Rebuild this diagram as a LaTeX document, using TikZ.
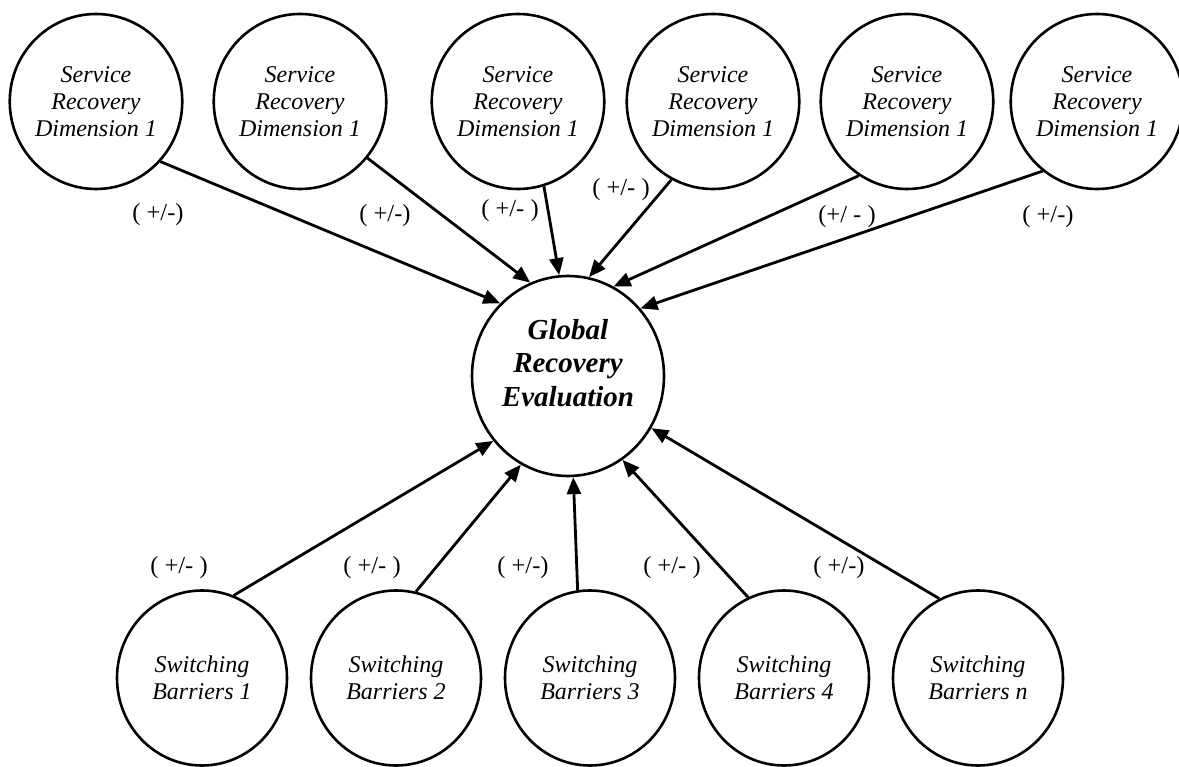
\documentclass[tikz,border=0pt]{standalone}
\usepackage{fontspec}
\setmainfont{Liberation Serif}
\usetikzlibrary{shapes.geometric,arrows.meta}
\begin{document}
\begin{tikzpicture}[x=1pt,y=-1pt,
  factor/.style={ellipse, draw, line width=2.6pt, minimum width=170pt,
    minimum height=175pt, inner sep=0pt, align=center,
    font=\fontsize{24}{26.7}\selectfont\itshape},
  hub/.style={ellipse, draw, line width=2.6pt, minimum width=192pt,
    minimum height=200pt, inner sep=0pt},
  hubtext/.style={align=center, inner sep=0pt,
    font=\fontsize{29}{33.5}\selectfont\bfseries\itshape},
  sign/.style={inner sep=0pt, font=\fontsize{24.5}{27}\selectfont},
  link/.style={line width=2.8pt, -{Triangle[length=17pt,width=14pt]}}
]
\fill[white] (0,0) rectangle (1179,767);
\path[use as bounding box] (0,0) rectangle (1179,767);

% central construct
\node[hub] (g) at (568,376) {};
\node[hubtext] (gtext) at ([yshift=13pt]g.center) {Global\\Recovery\\Evaluation};

% service recovery dimensions
\node[factor] (s1) at (96,101.5)   {Service\\Recovery\\Dimension 1};
\node[factor] (s2) at (300,101.5)  {Service\\Recovery\\Dimension 1};
\node[factor] (s3) at (518,101.5)  {Service\\Recovery\\Dimension 1};
\node[factor] (s4) at (713,101.5)  {Service\\Recovery\\Dimension 1};
\node[factor] (s5) at (907,101.5)  {Service\\Recovery\\Dimension 1};
\node[factor] (s6) at (1097,101.5) {Service\\Recovery\\Dimension 1};

% switching barriers
\node[factor] (b1) at (202,678) {Switching\\Barriers 1};
\node[factor] (b2) at (396,678) {Switching\\Barriers 2};
\node[factor] (b3) at (590,678) {Switching\\Barriers 3};
\node[factor] (b4) at (784,678) {Switching\\Barriers 4};
\node[factor] (b5) at (978,678) {Switching\\Barriers n};

% influences on the global evaluation
\draw[link] (s1.-43.4)  -- (g.133);
\draw[link] (s2.-40.6)  -- (g.112.4);
\draw[link] (s3.-73.7)  -- (g.95);
\draw[link] (s4.-118.2) -- (g.78.8);
\draw[link] (s5.-123.3) -- (g.63.2);
\draw[link] (s6.-128.1) -- (g.43.4);

\draw[link] (b1.69.7)  -- (g.-139.7);
\draw[link] (b2.77.4)  -- (g.-118.8);
\draw[link] (b3.98.7)  -- (g.-87.3);
\draw[link] (b4.114.5) -- (g.-57.8);
\draw[link] (b5.116)   -- (g.-32.7);

% signs of the effects
\node[sign] (l1) at (158,215)  {( +/-)};
\node[sign] (l2) at (385,216)  {( +/-)};
\node[sign] (l3) at (510,211)  {( +/- )};
\node[sign] (l4) at (621,190)  {( +/- )};
\node[sign] (l5) at (847,217)  {(+/ - )};
\node[sign] (l6) at (1048,217) {( +/-)};

\node[sign] (m1) at (179,568) {( +/- )};
\node[sign] (m2) at (372,568) {( +/- )};
\node[sign] (m3) at (523,568) {( +/-)};
\node[sign] (m4) at (672,568) {( +/- )};
\node[sign] (m5) at (839,568) {( +/-)};
\end{tikzpicture}
\end{document}
